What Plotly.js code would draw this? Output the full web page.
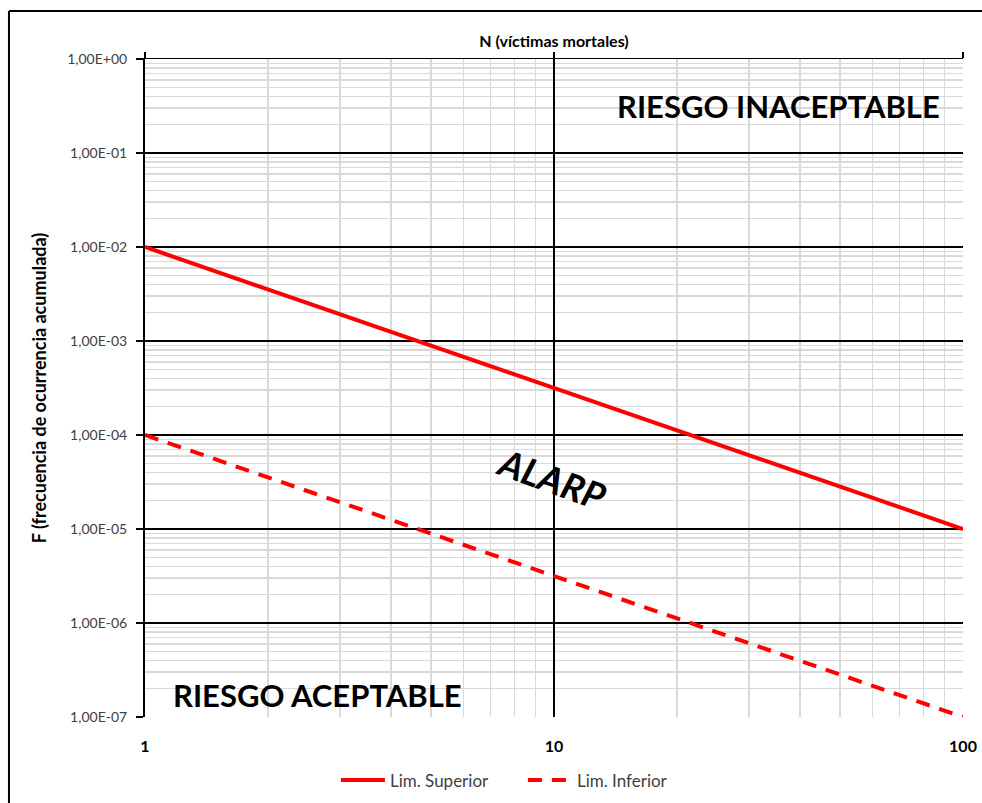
<!DOCTYPE html>
<html>
<head>
<meta charset="utf-8">
<script src="https://cdn.plot.ly/plotly-3.0.1.min.js"></script>
<style>html,body{margin:0;padding:0;background:#fff;}#chart{width:982px;height:803px;}</style>
</head>
<body>
<div id="chart"></div>
<script>
// Data
const victims = [1, 100];
const limSuperior = [1e-2, 1e-5];
const limInferior = [1e-4, 1e-7];
const yTickVals = [1e-7, 1e-6, 1e-5, 1e-4, 1e-3, 1e-2, 1e-1, 1];
const yTickText = ["1,00E-07", "1,00E-06", "1,00E-05", "1,00E-04", "1,00E-03", "1,00E-02", "1,00E-01", "1,00E+00"];
const xTickVals = [1, 10, 100];
const xTickText = ["1", "10", "100"];
const seriesNames = ["Lim. Superior", "Lim. Inferior"];

// minor grid positions (2..9 per decade)
function minorVals(lo, hi) {
  const out = [];
  for (let e = lo; e < hi; e++) for (let m = 2; m <= 9; m++) out.push(m * Math.pow(10, e));
  return out;
}

const FONT = "Lato, 'Open Sans', sans-serif";

const traces = [
  {x: victims, y: limSuperior, name: seriesNames[0], mode: "lines", type: "scatter",
   line: {color: "#ff0000", width: 4}, cliponaxis: false},
  {x: victims, y: limInferior, name: seriesNames[1], mode: "lines", type: "scatter",
   line: {color: "#ff0000", width: 4, dash: "14px,10px"}, cliponaxis: false},
  {x: victims, y: limInferior, xaxis: "x2", mode: "lines", type: "scatter",
   line: {width: 0}, showlegend: false, hoverinfo: "skip", opacity: 0}
];

const layout = {
  width: 982, height: 803,
  margin: {l: 145, r: 19, t: 59, b: 86, autoexpand: false},
  paper_bgcolor: "#fff", plot_bgcolor: "#fff",
  font: {family: FONT, color: "#404040", size: 14},
  showlegend: true,
  legend: {orientation: "h", x: 0.462, xanchor: "center", yref: "container", y: 0.028, yanchor: "middle",
           font: {family: FONT, size: 17, color: "#404040"}, itemwidth: 44, entrywidth: 128, tracegroupgap: 0},
  xaxis: {
    type: "log", range: [0, 2], side: "top", automargin: false,
    tickvals: xTickVals, ticktext: xTickText, showticklabels: false,
    ticks: "outside", ticklen: 6, tickwidth: 1.5, tickcolor: "#000",
    showgrid: true, gridcolor: "#000", gridwidth: 1.2,
    showline: true, linecolor: "#000", linewidth: 1.5,
    zeroline: false,
    minor: {tickvals: minorVals(0, 2), showgrid: true, gridcolor: "#d9d9d9", gridwidth: 1.5, ticks: ""},
    title: {text: "<b>N (víctimas mortales)</b>", standoff: 0, font: {family: FONT, size: 16, color: "#000"}}
  },
  xaxis2: {
    type: "log", range: [0, 2], overlaying: "x", side: "bottom", anchor: "y", automargin: false,
    tickvals: xTickVals, ticktext: xTickText, ticks: "", showgrid: false, showline: false, zeroline: false,
    tickfont: {family: FONT, size: 16, color: "#000", weight: "bold"}, ticklabelstandoff: 18
  },
  yaxis: {
    type: "log", range: [-7, 0], automargin: false,
    tickvals: yTickVals, ticktext: yTickText,
    ticks: "outside", ticklen: 7, tickwidth: 1.5, tickcolor: "#000",
    tickfont: {family: FONT, size: 14, color: "#404040"}, ticklabelstandoff: 6,
    showgrid: true, gridcolor: "#000", gridwidth: 1.2,
    showline: true, linecolor: "#000", linewidth: 2,
    zeroline: false,
    minor: {tickvals: minorVals(-7, 0), showgrid: true, gridcolor: "#d9d9d9", gridwidth: 1.5, ticks: ""},
    title: {text: "<b>F (frecuencia de ocurrencia acumulada)</b>", standoff: 16, font: {family: FONT, size: 18, color: "#000"}}
  },
  annotations: [
    {text: "<b>RIESGO INACEPTABLE</b>", xref: "paper", yref: "paper", x: 0.775, y: 0.929,
     xanchor: "center", yanchor: "middle", showarrow: false, font: {family: FONT, size: 31, color: "#000"}},
    {text: "<b>RIESGO ACEPTABLE</b>", xref: "paper", yref: "paper", x: 0.211, y: 0.033,
     xanchor: "center", yanchor: "middle", showarrow: false, font: {family: FONT, size: 31, color: "#000"}},
    {text: "<b><i>ALARP</i></b>", xref: "paper", yref: "paper", x: 0.4975, y: 0.363,
     xanchor: "center", yanchor: "middle", showarrow: false, textangle: 20, font: {family: FONT, size: 37, color: "#000"}}
  ],
  shapes: [
    {type: "line", xref: "paper", yref: "paper", x0: -0.1663, x1: -0.1663, y0: 1.073, y1: -0.2,
     line: {color: "#000", width: 2}},
    {type: "line", xref: "paper", yref: "paper", x0: -0.1663, x1: 1.1, y0: 1.073, y1: 1.073,
     line: {color: "#000", width: 2}}
  ]
};

Plotly.newPlot("chart", traces, layout, {displayModeBar: false, staticPlot: true});
</script>
</body>
</html>
